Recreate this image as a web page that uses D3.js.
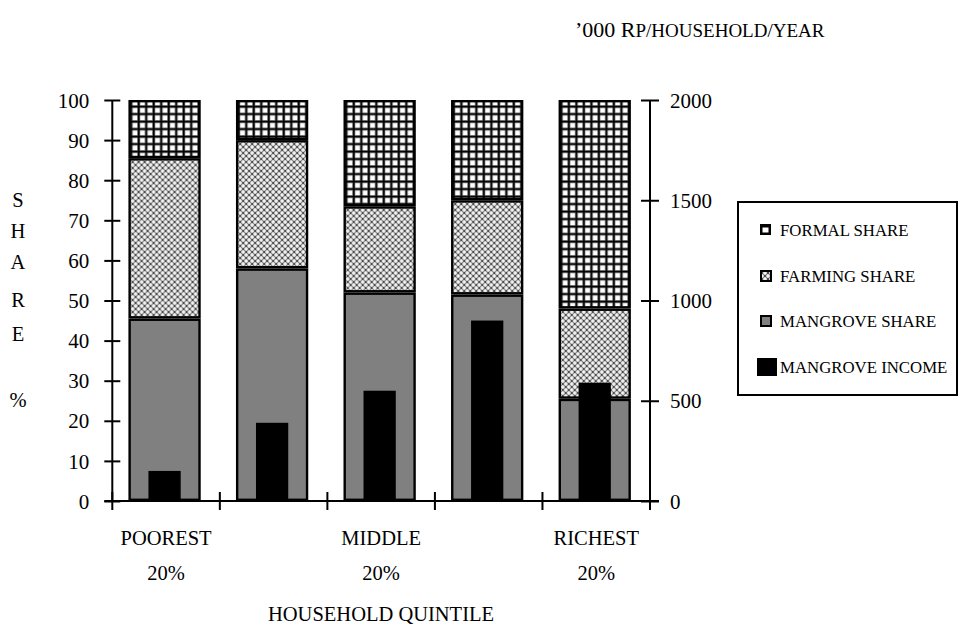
<!DOCTYPE html>
<html>
<head>
<meta charset="utf-8">
<script src="https://cdn.jsdelivr.net/npm/d3@7/dist/d3.min.js"></script>
<style>
  html, body { margin: 0; padding: 0; background: #fff; }
  svg { display: block; }
  text { font-family: "Liberation Serif", "Times New Roman", serif; fill: #000; }
</style>
</head>
<body>
<svg id="chart" width="960" height="628"></svg>
<script>
// Household quintiles, poorest to richest
const quintiles = ["Q1", "Q2", "Q3", "Q4", "Q5"];
const quintileLabels = [["POOREST", "20%"], [], ["MIDDLE", "20%"], [], ["RICHEST", "20%"]];

// Income shares (% of household income), stacked bottom to top
const mangroveShare = [45.5, 58, 52, 51.5, 25.5];
const farmingShare  = [40, 32, 21.5, 23.5, 22.5];
const formalShare   = [14.5, 10, 26.5, 25, 52];

// Mangrove income, '000 Rp per household per year (right axis)
const mangroveIncome = [150, 390, 550, 900, 590];

// Axis ticks
const shareTicks  = [0, 10, 20, 30, 40, 50, 60, 70, 80, 90, 100];
const incomeTicks = [0, 500, 1000, 1500, 2000];

const legendItems = ["FORMAL SHARE", "FARMING SHARE", "MANGROVE SHARE", "MANGROVE INCOME"];

const svg = d3.select("#chart");
const plotLeft = 112.3, plotRight = 650, plotTop = 100, plotBase = 501;

const x = d3.scaleBand().domain(quintiles).range([plotLeft, plotRight]).padding(0);
const yShare = d3.scaleLinear().domain([0, 100]).range([plotBase, plotTop]);
const yIncome = d3.scaleLinear().domain([0, 2000]).range([plotBase, plotTop]);

// Fill patterns: open grid for formal, crossed dots for farming
const defs = svg.append("defs");
const grid = defs.append("pattern").attr("id", "formalPat")
  .attr("patternUnits", "userSpaceOnUse").attr("width", 7.5).attr("height", 7.5);
grid.append("rect").attr("width", 7.5).attr("height", 7.5).attr("fill", "#fff");
grid.append("rect").attr("x", 0).attr("y", 0).attr("width", 3.2).attr("height", 7.5).attr("fill", "#999");
grid.append("rect").attr("x", 0).attr("y", 0).attr("width", 7.5).attr("height", 3.2).attr("fill", "#999");
grid.append("rect").attr("x", 0.7).attr("y", 0).attr("width", 1.8).attr("height", 7.5).attr("fill", "#000");
grid.append("rect").attr("x", 0).attr("y", 0.7).attr("width", 7.5).attr("height", 1.8).attr("fill", "#000");

const dots = defs.append("pattern").attr("id", "farmPat")
  .attr("patternUnits", "userSpaceOnUse").attr("width", 6).attr("height", 6);
dots.append("rect").attr("width", 6).attr("height", 6).attr("fill", "#4e4e4e");
[[3, 3], [0, 0], [6, 0], [0, 6], [6, 6]].forEach(([cx, cy]) => {
  dots.append("circle").attr("cx", cx).attr("cy", cy).attr("r", 1.9).attr("fill", "#b4b4b4");
  dots.append("rect").attr("x", cx - 1.8).attr("y", cy - 0.6).attr("width", 3.6).attr("height", 1.2).attr("fill", "#fff");
  dots.append("rect").attr("x", cx - 0.6).attr("y", cy - 1.8).attr("width", 1.2).attr("height", 3.6).attr("fill", "#fff");
});

// Stacked share bars
const rows = quintiles.map((q, i) => ({
  q,
  segs: [
    { key: "mangrove", y0: 0, y1: mangroveShare[i], fill: "#808080" },
    { key: "farming", y0: mangroveShare[i], y1: mangroveShare[i] + farmingShare[i], fill: "url(#farmPat)" },
    { key: "formal", y0: mangroveShare[i] + farmingShare[i], y1: mangroveShare[i] + farmingShare[i] + formalShare[i], fill: "url(#formalPat)" }
  ]
}));

const barW = x.bandwidth() * 0.65;
const barG = svg.append("g").selectAll("g").data(rows).join("g")
  .attr("transform", d => `translate(${x(d.q) + (x.bandwidth() - barW) / 2 - 1.5},0)`);
barG.selectAll("rect").data(d => d.segs).join("rect")
  .attr("x", 0)
  .attr("y", d => yShare(d.y1) + 1.2)
  .attr("width", barW)
  .attr("height", d => yShare(d.y0) - yShare(d.y1) - 2.4)
  .attr("fill", d => d.fill)
  .attr("stroke", "#000")
  .attr("stroke-width", 2.4);

// Mangrove income bars on the right axis
const incW = x.bandwidth() * 0.3;
svg.append("g").selectAll("rect").data(quintiles).join("rect")
  .attr("x", (d, i) => x(d) + (x.bandwidth() - incW) / 2 - 1.5)
  .attr("y", (d, i) => yIncome(mangroveIncome[i]))
  .attr("width", incW)
  .attr("height", (d, i) => plotBase - yIncome(mangroveIncome[i]))
  .attr("fill", "#000");

// Left axis
const axL = svg.append("g").attr("transform", `translate(${plotLeft},0)`)
  .call(d3.axisLeft(yShare).tickValues(shareTicks).tickSize(8).tickSizeOuter(0));
axL.select(".domain").attr("stroke", "#000").attr("stroke-width", 2).attr("d", `M0,${plotTop}V${plotBase}`);
axL.selectAll(".tick line").attr("x1", 8).attr("stroke-width", 2);
axL.selectAll(".tick text").attr("x", -23).attr("font-size", 21)
  .attr("font-family", "Liberation Serif").attr("dy", "0.34em");

// Right axis
const axR = svg.append("g").attr("transform", `translate(${plotRight},0)`)
  .call(d3.axisRight(yIncome).tickValues(incomeTicks).tickFormat(d3.format("d")).tickSize(9).tickSizeOuter(0));
axR.select(".domain").attr("stroke", "#000").attr("stroke-width", 2).attr("d", `M0,${plotTop}V${plotBase}`);
axR.selectAll(".tick line").attr("x1", -9).attr("stroke-width", 2);
axR.selectAll(".tick text").attr("x", 20).attr("font-size", 21)
  .attr("font-family", "Liberation Serif").attr("dy", "0.34em");

// Category axis with crossing boundary ticks
const axX = svg.append("g");
axX.append("line").attr("x1", plotLeft - 8).attr("x2", plotRight + 9).attr("y1", plotBase).attr("y2", plotBase)
  .attr("stroke", "#000").attr("stroke-width", 2);
const bounds = quintiles.map(q => x(q)).concat([plotRight]);
axX.selectAll("line.b").data(bounds).join("line").attr("class", "b")
  .attr("x1", d => d).attr("x2", d => d).attr("y1", plotBase - 9).attr("y2", plotBase + 9)
  .attr("stroke", "#000").attr("stroke-width", 2);
axX.selectAll("text.cat").data(quintiles).join("text").attr("class", "cat")
  .attr("x", d => x(d) + x.bandwidth() / 2)
  .attr("text-anchor", "middle").attr("font-size", 20.5)
  .each(function(d, i) {
    const lines = quintileLabels[i];
    d3.select(this).selectAll("tspan").data(lines).join("tspan")
      .attr("x", x(d) + x.bandwidth() / 2)
      .attr("y", (l, j) => 545 + j * 35)
      .text(l => l);
  });

svg.append("text").attr("x", 381).attr("y", 621).attr("text-anchor", "middle")
  .attr("font-size", 20.5).text("HOUSEHOLD QUINTILE");

// Left axis title, stacked letters
const shareTitle = [["S", 207], ["H", 238], ["A", 269], ["R", 307], ["E", 341], ["%", 407]];
svg.append("g").selectAll("text").data(shareTitle).join("text")
  .attr("x", 18).attr("y", d => d[1]).attr("text-anchor", "middle")
  .attr("font-size", 20.5).text(d => d[0]);

// Right axis title
const unit = svg.append("text").attr("x", 575).attr("y", 37).attr("font-size", 22);
unit.append("tspan").text("\u2019000 R");
unit.append("tspan").attr("font-size", 19).text("P/HOUSEHOLD/YEAR");

// Legend
const lg = svg.append("g");
lg.append("rect").attr("x", 738).attr("y", 202).attr("width", 219).attr("height", 193)
  .attr("fill", "#fff").attr("stroke", "#000").attr("stroke-width", 2);
const legY = [230, 276, 321, 367];
legendItems.forEach((name, i) => {
  const cy = legY[i];
  if (i === 3) {
    lg.append("rect").attr("x", 757).attr("y", cy - 9).attr("width", 20).attr("height", 18).attr("fill", "#000");
  } else if (i === 0) {
    lg.append("rect").attr("x", 760).attr("y", cy - 6).attr("width", 11).attr("height", 11).attr("fill", "#000");
    lg.append("rect").attr("x", 762.5).attr("y", cy - 2.5).attr("width", 6).attr("height", 5).attr("fill", "#fff");
  } else {
    const fill = i === 1 ? "url(#farmPat)" : "#808080";
    lg.append("rect").attr("x", 761).attr("y", cy - 5).attr("width", 10).attr("height", 10)
      .attr("fill", fill).attr("stroke", "#000").attr("stroke-width", 2);
  }
  lg.append("text").attr("x", 780).attr("y", cy).attr("dy", "0.35em")
    .attr("font-size", 16.8).text(name);
});
</script>
</body>
</html>
